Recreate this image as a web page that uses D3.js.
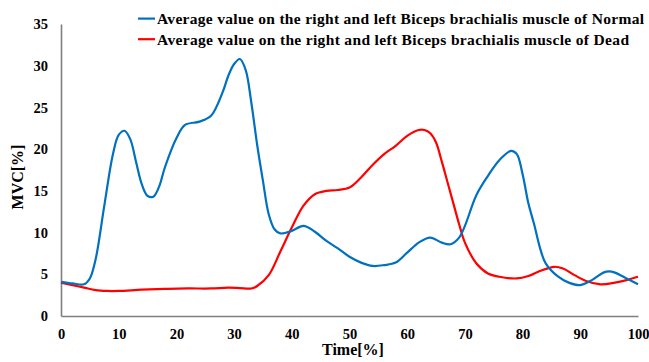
<!DOCTYPE html>
<html>
<head>
<meta charset="utf-8">
<script src="https://cdn.jsdelivr.net/npm/d3@7"></script>
<style>
  html, body { margin: 0; padding: 0; background: #fff; }
  svg { display: block; }
</style>
</head>
<body>
<svg id="chart" width="649" height="362"></svg>
<script>
// MVC [%] over normalised time [%]
const normalTime = [0, 2, 4, 5, 6, 7.5, 9, 10, 11, 12, 13, 14, 15, 16, 17, 18, 20, 21.5, 24, 26, 28, 29, 30, 31, 32, 33, 34, 35, 36, 37, 38, 40, 42, 44, 46, 48, 50, 52, 54, 56, 58, 60, 62, 64, 66, 67.5, 69, 70, 72, 74, 76, 78, 79, 80, 81, 82, 83, 84, 86, 88, 90, 92, 94, 95, 96, 98, 100];
const normalValues = [4.1, 3.9, 3.8, 4.5, 6.8, 13.2, 19.4, 21.7, 22.2, 21.2, 18.5, 15.8, 14.4, 14.3, 15.5, 17.8, 21.3, 22.9, 23.3, 24.0, 26.8, 28.8, 30.2, 30.8, 29.5, 25.5, 20.5, 16.2, 12.2, 10.4, 9.9, 10.2, 10.8, 10.1, 9.0, 8.1, 7.1, 6.4, 6.0, 6.1, 6.4, 7.6, 8.8, 9.4, 8.8, 8.6, 9.4, 10.8, 14.5, 16.8, 18.7, 19.8, 19.4, 17.0, 13.5, 11.0, 8.2, 6.3, 4.8, 4.0, 3.7, 4.3, 5.2, 5.35, 5.2, 4.5, 3.8];

const deadTime = [0, 2, 4, 6, 8, 10, 14, 18, 22, 26, 29, 31, 33, 34, 36, 38, 40, 42, 44, 46, 48, 50, 52, 54, 56, 58, 60, 62, 63, 64, 65, 66, 67, 68, 69, 70, 72, 74, 76, 79, 81, 83, 85.5, 87, 89, 91, 93.5, 96, 98, 100];
const deadValues = [4.0, 3.7, 3.4, 3.1, 3.0, 3.0, 3.15, 3.25, 3.3, 3.3, 3.4, 3.35, 3.3, 3.6, 4.9, 7.7, 10.6, 13.2, 14.6, 15.0, 15.1, 15.4, 16.6, 18.1, 19.4, 20.4, 21.6, 22.3, 22.3, 21.9, 20.8, 18.5, 16.0, 13.5, 11.0, 8.8, 6.3, 5.1, 4.7, 4.5, 4.8, 5.4, 5.9, 5.7, 4.9, 4.2, 3.8, 4.0, 4.3, 4.7];

const seriesNames = [
  "Average value on the right and left Biceps brachialis muscle of Normal",
  "Average value on the right and left Biceps brachialis muscle of Dead"
];
const seriesColors = ["#0070C0", "#FF0000"];
const xTicks = [0, 10, 20, 30, 40, 50, 60, 70, 80, 90, 100];
const yTicks = [0, 5, 10, 15, 20, 25, 30, 35];
const xTitle = "Time[%]";
const yTitle = "MVC[%]";

const FONT = "'Liberation Serif', 'Times New Roman', serif";

const svg = d3.select("#chart");
const margin = { left: 61, right: 11, top: 24, bottom: 46 };
const W = 649, H = 362;

const x = d3.scaleLinear().domain([0, 100]).range([margin.left, W - margin.right]);
const y = d3.scaleLinear().domain([0, 35]).range([H - margin.bottom, margin.top]);

// axes: plain grey lines, no tick marks
const xAxis = svg.append("g")
  .attr("transform", `translate(0,${y(0)})`)
  .call(d3.axisBottom(x).tickValues(xTicks).tickSize(0).tickPadding(13));
const yAxis = svg.append("g")
  .attr("transform", `translate(${x(0)},0)`)
  .call(d3.axisLeft(y).tickValues(yTicks).tickSize(0).tickPadding(13));
[xAxis, yAxis].forEach(g => {
  g.attr("font-family", null).style("font-family", FONT).style("font-size", "14.5px").style("font-weight", "bold");
  g.select(".domain").attr("stroke", "#7f7f7f").attr("stroke-width", 1.6);
  g.selectAll("text").attr("fill", "#000");
});

const line = d3.line()
  .x(d => x(d[0]))
  .y(d => y(d[1]))
  .curve(d3.curveCatmullRom.alpha(0.5));

const series = [
  d3.zip(normalTime, normalValues),
  d3.zip(deadTime, deadValues)
];

// draw Dead first so Normal sits on top where they cross
[1, 0].forEach(i => {
  svg.append("path")
    .datum(series[i])
    .attr("fill", "none")
    .attr("stroke", seriesColors[i])
    .attr("stroke-width", 2.2)
    .attr("stroke-linejoin", "round")
    .attr("d", line);
});

const labels = svg.append("g")
  .style("font-family", FONT)
  .style("font-weight", "bold")
  .attr("fill", "#000");

// axis titles
labels.append("text")
  .attr("x", 353)
  .attr("y", 355)
  .attr("text-anchor", "middle")
  .style("font-size", "16px")
  .text(xTitle);
labels.append("text")
  .attr("transform", `translate(23,${(y(0) + y(35)) / 2 + 7}) rotate(-90)`)
  .attr("text-anchor", "middle")
  .style("font-size", "16px")
  .text(yTitle);

// legend
const legendWidths = [487, 472];
seriesNames.forEach((name, i) => {
  const cy = 18.6 + i * 20.6;
  svg.append("line")
    .attr("x1", 138).attr("x2", 155)
    .attr("y1", cy).attr("y2", cy)
    .attr("stroke", seriesColors[i]).attr("stroke-width", 2.2);
  labels.append("text")
    .attr("x", 157).attr("y", cy + 5.6)
    .style("font-size", "15.5px")
    .attr("textLength", legendWidths[i])
    .attr("lengthAdjust", "spacing")
    .text(name);
});
</script>
</body>
</html>
